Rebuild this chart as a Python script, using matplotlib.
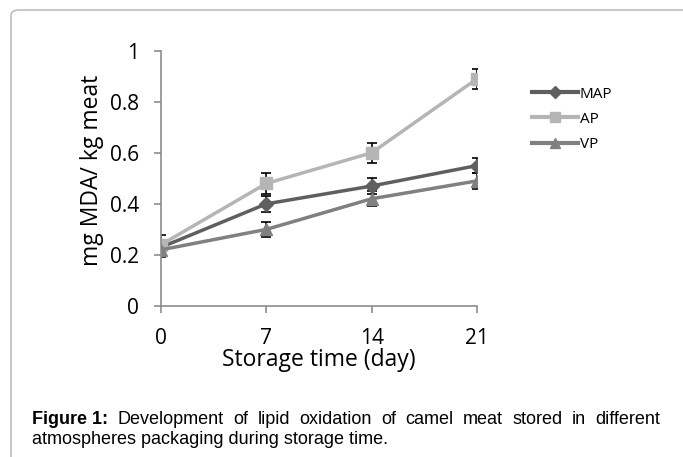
import matplotlib.pyplot as plt
from matplotlib.patches import FancyBboxPatch

days = [0, 7, 14, 21]
map_vals = [0.23, 0.40, 0.47, 0.55]
map_err = [0.03, 0.03, 0.03, 0.03]
ap_vals = [0.24, 0.48, 0.60, 0.89]
ap_err = [0.04, 0.04, 0.04, 0.04]
vp_vals = [0.22, 0.30, 0.42, 0.49]
vp_err = [0.03, 0.03, 0.03, 0.03]

W, H = 683, 457
fig = plt.figure(figsize=(W/100, H/100), dpi=100)
ax = fig.add_axes([161/W, 1-306/H, (477-161)/W, (306-50.7)/H])

# rounded frame around the figure (only top and left edges fall inside the image)
frame = FancyBboxPatch((11/W, -0.1), 1.2, 1-10/H+0.1, boxstyle="round,pad=0,rounding_size=0.012",
                       transform=fig.transFigure, fill=False, ec='#bdbdbd', lw=1.2)
fig.patches.append(frame)

series = [
    ("MAP", map_vals, map_err, '#5f5f5f', 'D', 7),
    ("AP", ap_vals, ap_err, '#b5b5b5', 's', 9),
    ("VP", vp_vals, vp_err, '#808080', '^', 9),
]
handles = []
for name, v, e, c, mk, ms in series:
    ax.errorbar(days, v, yerr=e, fmt='none', ecolor='black', elinewidth=1.2, capsize=3.5, capthick=1.2, zorder=1)
    h, = ax.plot(days, v, color=c, lw=2.5, marker=mk, ms=ms, mec=c, mfc=c, label=name, zorder=2)
    handles.append(h)

ax.set_xlim(0, 21)
ax.set_ylim(0, 1)
ax.set_xticks(days)
ax.set_yticks([0, 0.2, 0.4, 0.6, 0.8, 1])
ax.set_yticklabels(['0', '0.2', '0.4', '0.6', '0.8', '1'])
for s in ['top', 'right']:
    ax.spines[s].set_visible(False)
for s in ['left', 'bottom']:
    ax.spines[s].set_color('#8c8c8c')
    ax.spines[s].set_linewidth(1.2)
ax.tick_params(colors='#8c8c8c', width=1.2, length=5, labelcolor='black', labelsize=15)
for t in ax.get_xticklabels() + ax.get_yticklabels():
    t.set_family('Open Sans')
ax.tick_params(axis='x', pad=11)
ax.tick_params(axis='y', pad=11)
ax.set_xlabel('Storage time (day)', family='Open Sans', fontsize=16.5, va='baseline')
ax.xaxis.set_label_coords(0.5, (306-366)/255.3)
ax.set_ylabel('mg MDA/ kg meat', family='Open Sans', fontsize=16.5, va='center')
ax.yaxis.set_label_coords((92-161)/316, (306-170)/255.3)

leg = fig.legend(handles=handles, loc='upper left', bbox_to_anchor=(518/W, 1-73/H),
                 frameon=False, prop={'family': 'Open Sans', 'size': 11}, handlelength=3.0,
                 labelspacing=0.66, handletextpad=0.15, markerscale=0.85)
for ln in leg.get_lines():
    ln.set_linewidth(3)

# caption, first line justified between x=32 and x=660
fig.canvas.draw()
r = fig.canvas.get_renderer()
cap_font = dict(family='Liberation Sans', fontsize=13, va='baseline')
words = ['Figure 1:', 'Development', 'of', 'lipid', 'oxidation', 'of', 'camel', 'meat', 'stored', 'in', 'different']
objs = []
for i, w in enumerate(words):
    objs.append(fig.text(0, 1-424/H, w, weight='bold' if i == 0 else 'normal', **cap_font))
widths = [o.get_window_extent(r).width for o in objs]
gap = (660 - 32 - sum(widths)) / (len(words) - 1)
x = 32
for o, wd in zip(objs, widths):
    o.set_x(x/W)
    x += wd + gap
fig.text(32/W, 1-444/H, 'atmospheres packaging during storage time.', **cap_font)

fig.savefig('out.png', dpi=100)
